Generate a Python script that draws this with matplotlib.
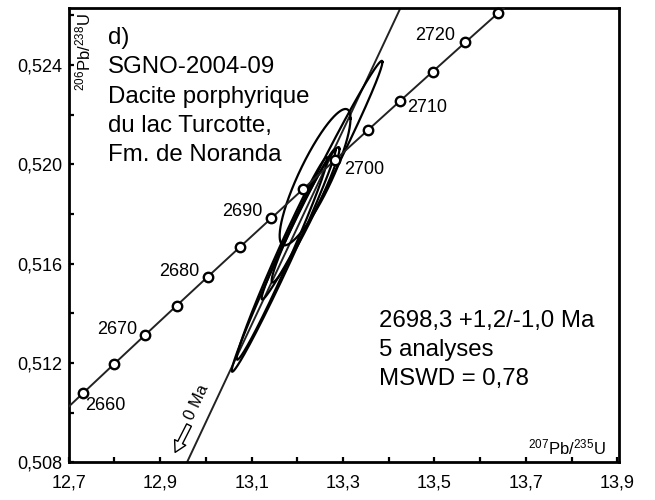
import numpy as np
import matplotlib
matplotlib.use("Agg")
import matplotlib.pyplot as plt
from matplotlib.ticker import MultipleLocator, FuncFormatter

plt.rcParams['font.family'] = ['Liberation Sans', 'DejaVu Sans']
plt.rcParams['mathtext.fontset'] = 'custom'
plt.rcParams['mathtext.rm'] = 'Liberation Sans'
plt.rcParams['mathtext.it'] = 'Liberation Sans:italic'

# ---- Data ----
# Concordia points (age in Ma, 207Pb/235U, 206Pb/238U)
conc_ages = [2655, 2660, 2665, 2670, 2675, 2680, 2685, 2690, 2695, 2700,
             2705, 2710, 2715, 2720, 2725, 2730]
conc_x = [12.664165, 12.731617, 12.799402, 12.867521, 12.935976, 13.004769,
          13.073901, 13.143375, 13.213192, 13.283353, 13.353861, 13.424717,
          13.495923, 13.567480, 13.639390, 13.711655]
conc_y = [0.509619, 0.510790, 0.511962, 0.513136, 0.514310, 0.515485,
          0.516661, 0.517837, 0.519015, 0.520194, 0.521373, 0.522554,
          0.523735, 0.524918, 0.526101, 0.527285]
marker_ages = [2660, 2665, 2670, 2675, 2680, 2685, 2690, 2695, 2700,
               2705, 2710, 2715, 2720, 2725]
label_ages = [2660, 2670, 2680, 2690, 2700, 2710, 2720]

# Analyses: 207Pb/235U, err, 206Pb/238U, err, rho
ell_x = [13.2541, 13.2389, 13.2181, 13.1701, 13.1668]
ell_sx = [0.1321, 0.0775, 0.0742, 0.1135, 0.0993]
ell_y = [0.519366, 0.519487, 0.517972, 0.516133, 0.516214]
ell_sy = [0.004808, 0.002747, 0.002727, 0.004485, 0.004081]
ell_rho = [0.990, 0.860, 0.972, 0.990, 0.986]

# Discordia: lower intercept (0 Ma) and upper intercept (2698.3 Ma)
disc_lower = (0.0, 0.0)
disc_upper = (13.2596, 0.519792)

# ---- Figure ----
fig = plt.figure(figsize=(6.55, 5.0), dpi=100)
ax = fig.add_axes([68.7/655, 1 - 462.3/500, 550/655, 454/500])
ax.set_xlim(12.7, 13.903)
ax.set_ylim(0.508, 0.52629)

# discordia
ax.axline(disc_lower, disc_upper, color='#222222', lw=1.4, zorder=2)

# ellipses
t = np.linspace(0, 2*np.pi, 400)
for cx, sx, cy, sy, r in zip(ell_x, ell_sx, ell_y, ell_sy, ell_rho):
    ex = cx + sx*np.cos(t)
    ey = cy + sy*(r*np.cos(t) + np.sqrt(1 - r*r)*np.sin(t))
    ax.plot(ex, ey, color='black', lw=1.6, zorder=3)

# concordia
ax.plot(conc_x, conc_y, color='#222222', lw=1.4, zorder=4)
mx = [conc_x[conc_ages.index(a)] for a in marker_ages]
my = [conc_y[conc_ages.index(a)] for a in marker_ages]
ax.plot(mx, my, ls='none', marker='o', ms=6.8, mfc='white', mec='black',
        mew=1.7, zorder=5, clip_on=False)

offsets = {2660: (1.5, -9, 'left'), 2670: (-6, 4, 'right'), 2680: (-6.5, 3.5, 'right'),
           2690: (-6.5, 4.5, 'right'), 2700: (6.5, -7, 'left'), 2710: (5, -5, 'left'),
           2720: (-7, 5, 'right')}
for a in label_ages:
    dx, dy, ha = offsets[a]
    i = conc_ages.index(a)
    ax.annotate(str(a), (conc_x[i], conc_y[i]), xytext=(dx, dy),
                textcoords='offset points', ha=ha, va='center', fontsize=13)

# 0 Ma arrow and label
ax.annotate('', xy=(12.930, 0.50830), xytext=(12.966, 0.50960),
            arrowprops=dict(arrowstyle='simple,head_width=0.9,head_length=0.8,tail_width=0.38',
                            fc='white', ec='black', lw=1.0))
ax.text(12.980, 0.510400, '0 Ma', rotation=65, ha='center', va='center',
        fontsize=12, rotation_mode='anchor')

# annotation block (left)
left_lines = ['d)', 'SGNO-2004-09', 'Dacite porphyrique', 'du lac Turcotte,', 'Fm. de Noranda']
left_base = [0.922, 0.8568, 0.7907, 0.7269, 0.6643]
for s, yb in zip(left_lines, left_base):
    ax.text(0.071, yb, s, transform=ax.transAxes, fontsize=17.3, va='baseline', ha='left')

right_lines = ['2698,3 +1,2/-1,0 Ma', '5 analyses', 'MSWD = 0,78']
right_base = [0.2974, 0.2341, 0.1703]
for s, yb in zip(right_lines, right_base):
    ax.text(0.564, yb, s, transform=ax.transAxes, fontsize=17.3, va='baseline', ha='left')

# axis labels inside
ax.text(0.026, 0.9897, r'$^{206}$Pb/$^{238}$U', transform=ax.transAxes, rotation=90,
        ha='center', va='top', fontsize=12)
ax.text(0.977, 0.018, r'$^{207}$Pb/$^{235}$U', transform=ax.transAxes,
        ha='right', va='baseline', fontsize=12)

# ticks
ax.xaxis.set_major_locator(MultipleLocator(0.1))
ax.yaxis.set_major_locator(MultipleLocator(0.002))
ax.xaxis.set_major_formatter(FuncFormatter(
    lambda v, p: f"{v:.1f}".replace('.', ',') if round(v*10) % 2 == 1 else ''))
ax.yaxis.set_major_formatter(FuncFormatter(
    lambda v, p: f"{v:.3f}".replace('.', ',') if round(v*1000) % 4 == 0 else ''))
ax.tick_params(direction='in', length=3.8, width=1.6, labelsize=13,
               top=False, right=False)
ax.tick_params(axis='x', pad=8.5)
ax.tick_params(axis='y', pad=4.5)
for sp in ax.spines.values():
    sp.set_linewidth(2.0)

fig.savefig('out.png', dpi=100)
